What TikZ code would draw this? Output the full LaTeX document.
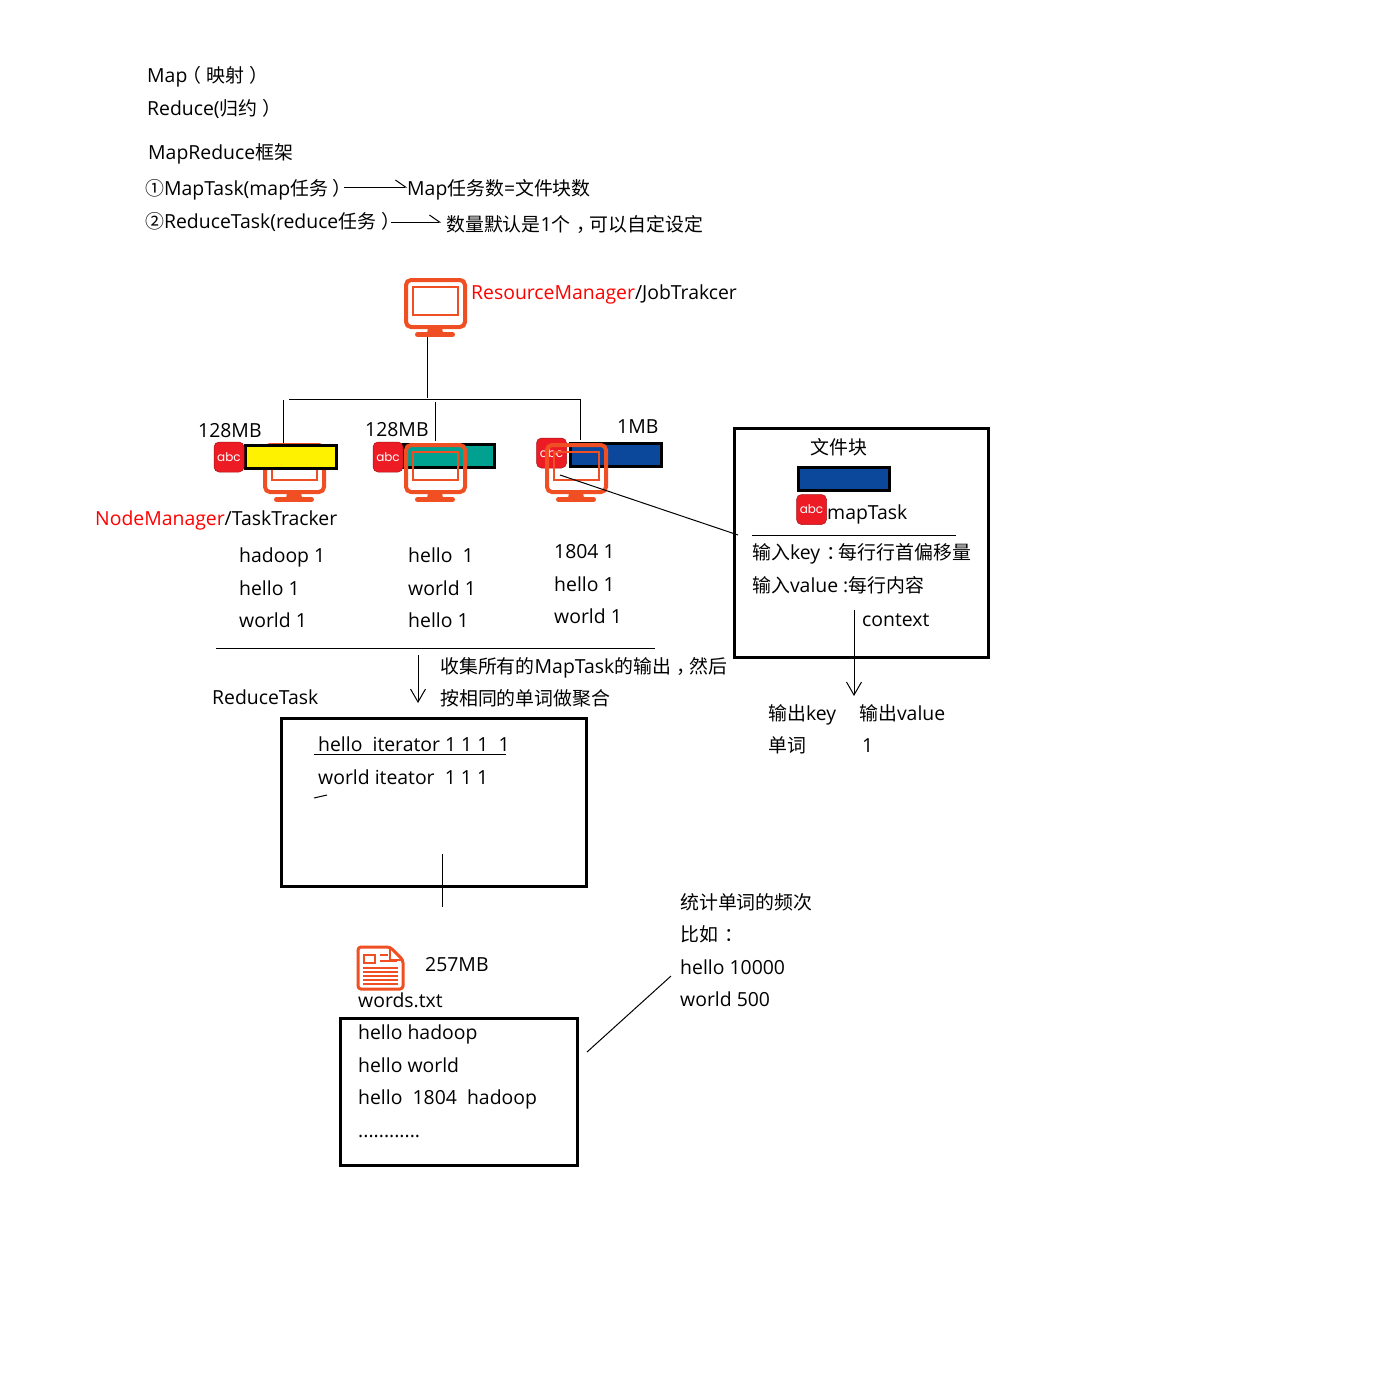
\documentclass[tikz,border=0pt]{standalone}
\usepackage{fontspec}
\setmainfont{Open Sans}
\newfontfamily\cjk{Noto Sans CJK SC}
\newfontfamily\abcfont{Poppins}
\newcommand{\zh}[1]{{\fontsize{18.9}{24}\cjk #1}}
\newcommand{\zhp}[1]{\kern6pt\zh{#1}\kern-6pt}
\newcommand{\zhopen}{\kern-5pt\zh{（}\kern5pt}
\newcommand{\zhclose}{\kern5pt\zh{）}}
\usetikzlibrary{positioning,
				arrows.meta,
				calc}
\definecolor{iconred}{HTML}{F04E23}
\definecolor{abcred}{HTML}{ED1C24}
\definecolor{blockteal}{HTML}{00A191}
\definecolor{blockblue}{HTML}{0B479B}
\definecolor{blockyellow}{HTML}{FFF200}
\tikzset{
	lbl/.style={anchor=base west,inner sep=0pt,font=\fontsize{19.4}{24}\selectfont},
	thinline/.style={line width=1pt},
	bigbox/.style={draw,line width=2.8pt,anchor=north west,inner sep=0pt,outer sep=0pt},
	blockbox/.style={draw,line width=3pt,inner sep=0pt,outer sep=0pt,minimum width=91pt,minimum height=23pt},
	barb/.style={thinline,-{Straight Barb[length=13pt,width=15pt,line width=1pt]}},
	halfbarb/.style={thinline,-{Straight Barb[length=10pt,width=14pt,left,line width=1pt]}},
	abcicon/.style={fill=abcred,draw=abcred!70!black,line width=.5pt,rounded corners=5pt,minimum size=30pt,inner sep=0pt,text=white,font=\fontsize{12}{12}\abcfont},
	monitor/.pic={
		\draw[iconred,line width=4pt,rounded corners=5pt] (0,0) rectangle (59,47);
		\draw[iconred,line width=2pt] (7,7) rectangle (52,35);
		\fill[iconred] (22,48) -- (36,48) -- (37,53) -- (21,53) -- cycle;
		\draw[iconred,line width=5pt,line cap=round] (11.5,54.5) -- (46.5,54.5);
		\coordinate (-stem) at (21,57);
	},
}
\begin{document}
\begin{tikzpicture}[x=1pt,y=-1pt]
	\path[fill=white,use as bounding box] (0,0) rectangle (1378,1378);
	% notes on top
	\node[lbl] (mapline) at (147,83) {Map\zhopen\zh{映射}\zhclose};
	\node[lbl] (reduceline) at (147,116) {Reduce(\zh{归约}\zhclose};
	\node[lbl] (frame) at (148,160) {MapReduce\zh{框架}};
	\node[lbl] (maptask) at (145,195) {\zh{①}MapTask(map\zh{任务}\zhclose};
	\node[lbl] (mapcount) at (407,195) {Map\zh{任务数}=\zh{文件块数}};
	\node[lbl] (reducetask) at (145,228) {\zh{②}ReduceTask(reduce\zh{任务}\zhclose};
	\node[lbl] (reducecount) at (446,231) {\zh{数量默认是}1\zh{个}\zhp{，}\zh{可以自定设定}};
	\coordinate (mapfrom) at (344,187);
	\coordinate (reducefrom) at (391,222);
	\draw[halfbarb] (mapfrom) -- (mapcount.base west |- mapfrom);
	\draw[halfbarb] (reducefrom) -- (441,222);
	% resource manager
	\pic (rm) at (406,280) {monitor};
	\node[lbl] (rmtext) at (471,299) {\textcolor{red}{ResourceManager}/JobTrakcer};
	\coordinate (split) at (427,398);
	\coordinate (splitl) at (289,399);
	\coordinate (splitr) at (580,399);
	\draw[thinline] (rm-stem) -- (split);
	\draw[thinline] (splitl) -- (splitr);
	% node managers
	\pic (nma) at (265,445) {monitor};
	\node[blockbox,fill=blockyellow] (blocka) at (291,457) {};
	\node[abcicon] (abca) at (229,457) {abc};
	\node[blockbox,fill=blockteal] (blockb) at (448.5,456) {};
	\node[abcicon] (abcb) at (388,457) {abc};
	\pic (nmb) at (406,445) {monitor};
	\node[blockbox,fill=blockblue] (blockc) at (616,455) {};
	\node[abcicon] (abcc) at (551.5,453) {abc};
	\pic (nmc) at (547,445) {monitor};
	\draw[thinline] (283.5,400) -- (283.5,443);
	\draw[thinline] (435,402) -- (435,441);
	\draw[thinline] (splitr) -- (580,440);
	\node[lbl] (sizea) at (198,437) {128MB};
	\node[lbl] (sizeb) at (365,436) {128MB};
	\node[lbl] (sizec) at (617,433) {1MB};
	\node[lbl] (nmtext) at (95,525) {\textcolor{red}{NodeManager}/TaskTracker};
	% words on each node
	\node[lbl] (ra) at (239,562) {hadoop 1};
	\node[lbl] (rb) at (239,595) {hello 1};
	\node[lbl] (rc) at (239,627) {world 1};
	\node[lbl] (sa) at (408,562) {hello\ \ 1};
	\node[lbl] (sb) at (408,595) {world 1};
	\node[lbl] (sc) at (408,627) {hello 1};
	\node[lbl] (ta) at (554,558) {1804 1};
	\node[lbl] (tb) at (554,591) {hello 1};
	\node[lbl] (tc) at (554,623) {world 1};
	\draw[thinline] (216,648) -- (655,648);
	% map task box
	\node[bigbox,minimum width=254.2pt,minimum height=229.2pt] (mapbox) at (734.6,428.6) {};
	\coordinate (mapboxleft) at (738,535);
	\draw[thinline] (560,475) -- (mapboxleft);
	\node[lbl] (blocktitle) at (810,454) {\zh{文件块}};
	\node[blockbox,fill=blockblue] (blockd) at (844,479) {};
	\node[abcicon] (abcd) at (811.5,509.5) {abc};
	\node[lbl] (mt) at (827,519) {mapTask};
	\draw[thinline] (752,535) -- (956,535);
	\node[lbl] (inkey) at (752,559) {\zh{输入}key\zhp{：}\zh{每行行首偏移量}};
	\node[lbl] (inval) at (752,592) {\zh{输入}value :\zh{每行内容}};
	\node[lbl] (ctx) at (862,626) {context};
	\draw[barb] (854,610) -- (854,696);
	\node[lbl] (outkey) at (768,720) {\zh{输出}key};
	\node[lbl] (outval) at (859,720) {\zh{输出}value};
	\node[lbl] (outa) at (768,752) {\zh{单词}};
	\node[lbl] (outb) at (862,752) {1};
	% reduce task
	\draw[barb] (418,655) -- (418,703);
	\node[lbl] (coll) at (440,673) {\zh{收集所有的}MapTask\zh{的输出}\zhp{，}\zh{然后}};
	\node[lbl] (collb) at (440,705) {\zh{按相同的单词做聚合}};
	\node[lbl] (rtask) at (212,704) {ReduceTask};
	\node[bigbox,minimum width=305.2pt,minimum height=168.2pt] (reducebox) at (281.6,718.6) {};
	\node[lbl] (ita) at (318,751) {hello\ \ iterator 1 1 1\ \ 1};
	\draw[thinline] (314,754) -- (506,754);
	\node[lbl] (itb) at (318,784) {world iteator\ \ 1 1 1};
	\draw[thinline] (314,798) -- (327,795);
	\draw[thinline] (442,854) -- (442,907);
	% input file
	\draw[iconred,line width=3pt,line join=round,rounded corners=3pt] (358,947) -- (390,947) -- (403,960) -- (403,989) -- (358,989) -- cycle;
	\draw[iconred,line width=1.5pt,line join=round] (390,947) -- (390,960) -- (403,960);
	\draw[iconred,line width=2.4pt] (364,955) rectangle (375,963);
	\draw[iconred,line width=1.2pt] (380,955) -- (388,955) (380,961) -- (397,961)
		(363,968) -- (398,968) (363,972) -- (398,972) (363,976) -- (398,976) (363,980) -- (398,980) (363,984) -- (398,984);
	\node[lbl] (size) at (425,971) {257MB};
	\node[lbl] (fname) at (358,1007) {words.txt};
	\node[bigbox,minimum width=237.2pt,minimum height=147.2pt] (filebox) at (340.6,1018.6) {};
	\node[lbl] (fa) at (358,1039) {hello hadoop};
	\node[lbl] (fb) at (358,1072) {hello world};
	\node[lbl] (fc) at (358,1104) {hello\ \ 1804\ \ hadoop};
	\node[lbl] (fd) at (358,1137) {............};
	% count note
	\draw[thinline] (587,1052) -- (671,976);
	\node[lbl] (na) at (680,909) {\zh{统计单词的频次}};
	\node[lbl] (nb) at (680,941) {\zh{比如}\zhp{：}};
	\node[lbl] (nc) at (680,974) {hello 10000};
	\node[lbl] (nd) at (680,1006) {world 500};
\end{tikzpicture}
\end{document}
